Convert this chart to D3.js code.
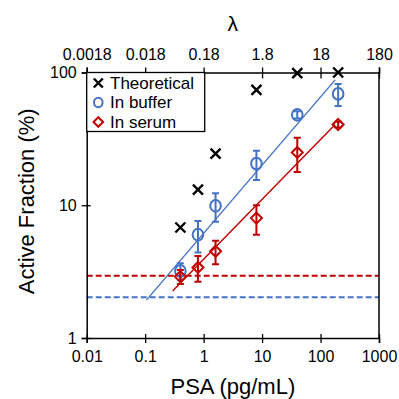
<!DOCTYPE html>
<html><head><meta charset="utf-8">
<script src="https://cdn.jsdelivr.net/npm/d3@7"></script>
<style>body{margin:0;background:#fff}svg{display:block;font-family:Arial,"Liberation Sans",sans-serif}</style>
</head><body>
<svg id="c" width="399" height="399"></svg>
<script>
const psa = [0.4, 0.8, 1.6, 8, 40, 200];
const theoretical = [6.8, 13.1, 24.5, 74, 99, 100];
const buffer = [3.2, 6.0, 9.9, 20.6, 48, 69];
const bufferErr = [0.45, 1.6, 2.4, 5.1, 3, 13];
const serum = [2.9, 3.4, 4.5, 8.0, 25, 40.6];
const serumErr = [0.35, 0.75, 0.9, 2.0, 7.2, 2];
const bufferFitX = [0.105, 178], bufferFitY = [1.93, 88];
const serumFitX = [0.295, 178], serumFitY = [2.26, 40.5];
const bufferLOD = 2.03, serumLOD = 2.94;
const xTicks = [0.01, 0.1, 1, 10, 100, 1000];
const xTickLabels = ["0.01", "0.1", "1", "10", "100", "1000"];
const lambdaTicks = [0.0018, 0.018, 0.18, 1.8, 18, 180];
const lambdaTickLabels = ["0.0018", "0.018", "0.18", "1.8", "18", "180"];
const yTicks = [1, 10, 100];
const yTickLabels = ["1", "10", "100"];
const legendLabels = ["Theoretical", "In buffer", "In serum"];

const BLUE = "#4472C4", RED = "#C00000";
const L = 86.7, R = 379, T = 72.5, B = 338;
const svg = d3.select("#c");
const x = d3.scaleLog().domain([0.01, 1000]).range([L, R]);
const xl = d3.scaleLog().domain([0.0018, 180]).range([L, R]);
const y = d3.scaleLog().domain([1, 100]).range([B, T]);

// dashed LOD lines
[[serumLOD, RED], [bufferLOD, BLUE]].forEach(([v, c]) => {
  svg.append("line").attr("x1", L).attr("x2", R).attr("y1", y(v)).attr("y2", y(v))
    .attr("stroke", c).attr("stroke-width", 2).attr("stroke-dasharray", "6,3");
});

// fit lines
const line = d3.line().x(d => x(d[0])).y(d => y(d[1]));
svg.append("path").attr("d", line(d3.zip(bufferFitX, bufferFitY))).attr("stroke", BLUE).attr("stroke-width", 1.4).attr("fill", "none");
svg.append("path").attr("d", line(d3.zip(serumFitX, serumFitY))).attr("stroke", RED).attr("stroke-width", 1.4).attr("fill", "none");

// axes
function styleAxis(g) {
  g.selectAll("path.domain").attr("stroke", "#000").attr("stroke-width", 1.5);
  g.selectAll(".tick line").attr("stroke", "#000").attr("stroke-width", 1.3);
  g.selectAll("text").attr("font-size", 16).attr("fill", "#000").attr("font-family", "Arial, Liberation Sans, sans-serif");
}
const gx = svg.append("g").attr("transform", `translate(0,${B})`)
  .call(d3.axisBottom(x).tickValues(xTicks).tickFormat((d, i) => xTickLabels[i]).tickSizeOuter(0).tickSize(5).tickPadding(8));
gx.selectAll(".tick line").attr("y1", -4);
styleAxis(gx);
const gt = svg.append("g").attr("transform", `translate(0,${T})`)
  .call(d3.axisTop(xl).tickValues(lambdaTicks).tickFormat((d, i) => lambdaTickLabels[i]).tickSizeOuter(0).tickSize(5).tickPadding(8));
gt.selectAll(".tick line").attr("y1", 6);
styleAxis(gt);
const gy = svg.append("g").attr("transform", `translate(${L},0)`)
  .call(d3.axisLeft(y).tickValues(yTicks).tickFormat((d, i) => yTickLabels[i]).tickSizeOuter(0).tickSize(5).tickPadding(5));
gy.selectAll(".tick line").attr("x1", 4);
styleAxis(gy);
svg.append("line").attr("x1", R).attr("x2", R).attr("y1", T).attr("y2", B).attr("stroke", "#000").attr("stroke-width", 1.5);

// titles
svg.append("text").attr("x", (L + R) / 2).attr("y", 394).attr("text-anchor", "middle").attr("font-size", 22).text("PSA (pg/mL)");
svg.append("text").attr("transform", `translate(34,${(T + B) / 2 - 4}) rotate(-90)`).attr("text-anchor", "middle").attr("font-size", 22).text("Active Fraction (%)");
svg.append("text").attr("x", (L + R) / 2).attr("y", 31).attr("text-anchor", "middle").attr("font-size", 21).text("λ");

// markers
function xMark(g, cx, cy, s) {
  g.append("path").attr("d", `M${cx - s},${cy - s}L${cx + s},${cy + s}M${cx - s},${cy + s}L${cx + s},${cy - s}`)
    .attr("stroke", "#000").attr("stroke-width", 2.4).attr("fill", "none");
}
function circ(g, cx, cy, r) {
  g.append("ellipse").attr("cx", cx).attr("cy", cy).attr("rx", r).attr("ry", r * 1.1).attr("fill", "none").attr("stroke", BLUE).attr("stroke-width", 2);
}
function diam(g, cx, cy, s) {
  g.append("path").attr("d", `M${cx},${cy - s}L${cx + s},${cy}L${cx},${cy + s}L${cx - s},${cy}Z`).attr("fill", "none").attr("stroke", RED).attr("stroke-width", 2);
}
function errbar(g, xv, v, e, c) {
  const cx = x(xv), y1 = y(v + e), y2 = y(v - e);
  g.append("path").attr("d", `M${cx},${y1}L${cx},${y2}M${cx - 3.5},${y1}L${cx + 3.5},${y1}M${cx - 3.5},${y2}L${cx + 3.5},${y2}`)
    .attr("stroke", c).attr("stroke-width", 2).attr("fill", "none");
}
const gm = svg.append("g");
psa.forEach((p, i) => errbar(gm, p, buffer[i], bufferErr[i], BLUE));
psa.forEach((p, i) => circ(gm, x(p), y(buffer[i]), 5.3));
psa.forEach((p, i) => errbar(gm, p, serum[i], serumErr[i], RED));
psa.forEach((p, i) => diam(gm, x(p), y(serum[i]), 5.5));
psa.forEach((p, i) => xMark(gm, x(p), y(theoretical[i]), 5));

// legend
const lg = svg.append("g");
lg.append("rect").attr("x", L).attr("y", T).attr("width", 118).attr("height", 59).attr("fill", "#fff").attr("stroke", "#000").attr("stroke-width", 1.3);
const ly = [83, 102.5, 122];
xMark(lg, 98.3, ly[0], 4.5);
circ(lg, 98.3, ly[1], 4.3);
diam(lg, 98.3, ly[2], 4.8);
legendLabels.forEach((t, i) => lg.append("text").attr("x", 110).attr("y", ly[i]).attr("dy", "0.35em").attr("font-size", 17).text(t));
</script>
</body></html>
